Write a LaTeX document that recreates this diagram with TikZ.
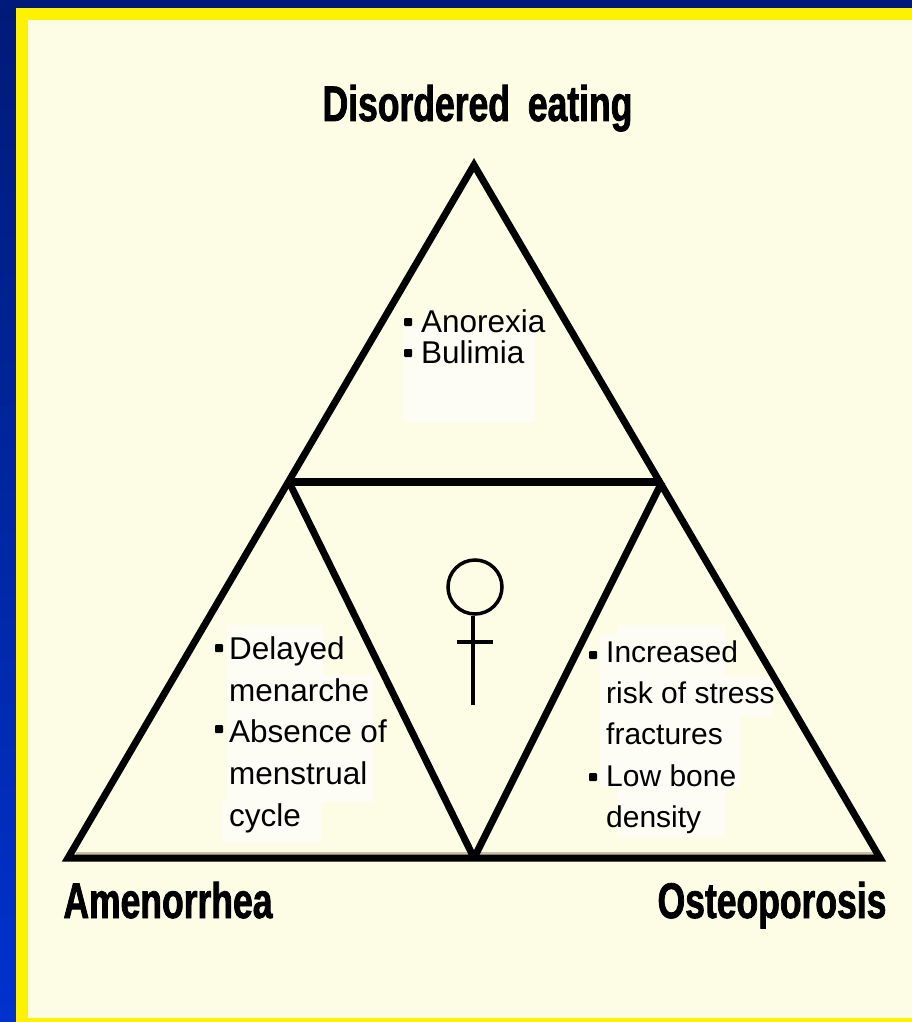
\documentclass[tikz,border=0pt]{standalone}
\usepackage{fontspec}
\usetikzlibrary{positioning}
\setmainfont{Liberation Sans}
\newfontfamily\headfont[FakeStretch=0.71,FakeBold=1.5]{Liberation Sans Bold}
\definecolor{panelcream}{RGB}{253,253,230}
\definecolor{patchwhite}{RGB}{253,253,245}
\definecolor{navytop}{RGB}{0,26,120}
\definecolor{bluebot}{RGB}{0,50,205}
\definecolor{edgeshade}{RGB}{200,190,170}
\begin{document}
\begin{tikzpicture}[x=1pt,y=-1pt,
    edge/.style={line width=7pt,line join=miter},
    symline/.style={line width=3.5pt},
    head/.style={font=\headfont\fontsize{50}{50}\selectfont,inner sep=0pt,anchor=base},
    itemtxt/.style={font=\fontsize{31.5}{41.7}\selectfont,align=left,anchor=north west,inner sep=0pt,text=black},
    patch/.style={fill=patchwhite}]
  \useasboundingbox (0,0) rectangle (912,1022);
  % backdrop and frame
  \shade[top color=navytop,bottom color=bluebot] (0,0) rectangle (912,1022);
  \fill[yellow] (16,8) rectangle (912,1022);
  \fill[panelcream] (28,20) rectangle (912,1018);
  % pale patches behind the lists
  \fill[patch] (403,323) rectangle (535,422);
  \fill[patch] (227,625) rectangle (323,675);
  \fill[patch] (227,675) rectangle (373,802);
  \fill[patch] (222,802) rectangle (321,842);
  \fill[patch] (600,635) rectangle (725,677);
  \fill[patch] (617,625) rectangle (725,635);
  \fill[patch] (600,677) rectangle (773,717);
  \fill[patch] (600,717) rectangle (740,787);
  \fill[patch] (617,787) rectangle (725,837);
  % triangle corners
  \coordinate (apex) at (474,165);
  \coordinate (left) at (68,858);
  \coordinate (right) at (880,858);
  \coordinate (midl) at (289,482);
  \coordinate (midr) at (662,482);
  \coordinate (midb) at (474,858);
  \coordinate (shadel) at (76,853);
  \coordinate (shader) at (874,853);
  \draw[edgeshade,line width=3pt] (shadel)--(shader);
  \draw[edge] (apex)--(left)--(right)--cycle;
  \draw[edge,line width=8pt] (midl)--(midr);
  \draw[edge,line join=bevel] (midl)--(midb)--(midr);
  % labels
  \node[head] (eat) at (477.5,121) {Disordered\hspace{8pt} eating};
  \node[head] (ame) at (168,918) {Amenorrhea};
  \node[head] (ost) at (772,918) {Osteoporosis};
  % lists
  \node[itemtxt,font=\fontsize{31.5}{31}\selectfont] (anx) at (421,309.5) {Anorexia\\Bulimia};
  \node[itemtxt] (del) at (229,636.5) {Delayed\\menarche\\Absence of\\menstrual\\cycle};
  \node[itemtxt,font=\fontsize{30}{41.2}\selectfont] (inc) at (606,640.5) {Increased\\risk of stress\\fractures\\Low bone\\density};
  \foreach \x/\y in {408/322,408/353,219/648,219/729,593/655,593/777}{
    \fill[rounded corners=1pt] (\x-4,\y-4) rectangle (\x+4,\y+4);
  }
  % female sign
  \node[circle,draw,symline,minimum size=54pt,inner sep=0pt] (ring) at (475,587) {};
  \coordinate (foot) at (473,705);
  \coordinate (barl) at (457,642);
  \coordinate (barr) at (493,642);
  \draw[symline] (ring.south -| foot)--(foot);
  \draw[symline] (barl)--(barr);
\end{tikzpicture}
\end{document}
